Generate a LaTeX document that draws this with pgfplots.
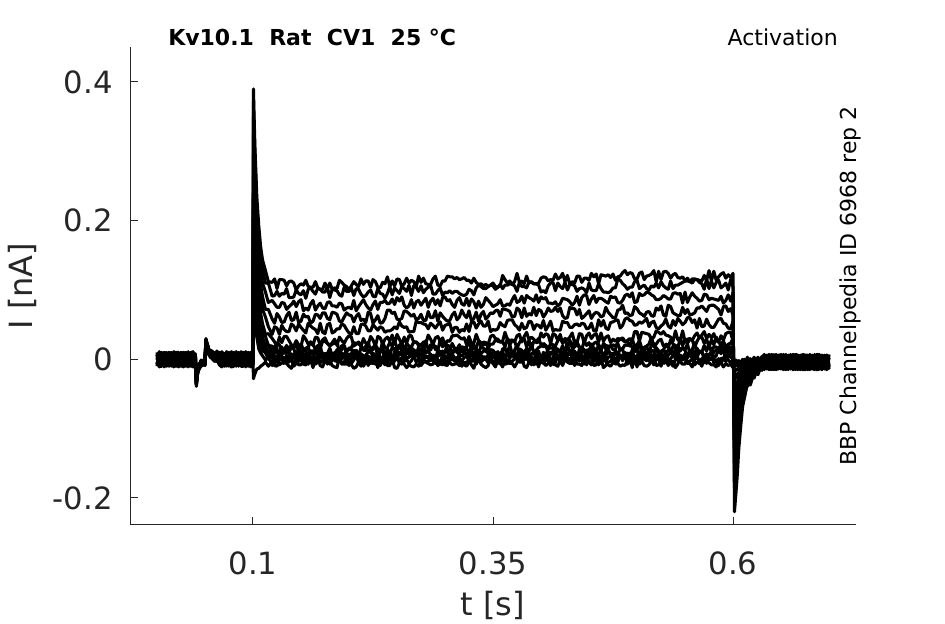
\documentclass[border=0pt]{standalone}
\usepackage{pgfplots}
\pgfplotsset{compat=1.18}
\usepackage{pgfplotstable}
\usepackage{fontspec}
\setmainfont{DejaVu Sans}
\definecolor{axgray}{HTML}{262626}

% time in ms, currents in pA
\pgfplotstableread{
t a b c d e f g h i j k l m
0 4 -6 8 -3 -8 1 6 -7 10 -1 3 -10 7
2.5 11 -6 3 -11 4 -1 -8 10 -4 8 -10 6 -6
5 -7 3 -4 10 1 -8 -3 7 -6 8 -10 4 0
7.5 10 -7 -4 1 -11 8 4 -10 3 -4 8 -8 6
10 8 -1 -10 4 7 -4 10 -8 1 -6 6 -3 -7
12.5 8 -3 4 -8 -1 10 -7 -4 6 -10 1 -6 7
15 -3 10 6 -7 -1 8 -6 3 -10 4 -4 8 1
17.5 6 -10 -3 11 -6 1 -10 7 4 -11 6 -1 -7
20 1 -8 3 8 -10 -3 4 -1 7 -7 10 -6 -4
22.5 3 -8 8 -4 6 -10 -3 4 -7 -1 10 -11 1
25 -10 6 -7 -4 4 7 -8 10 -3 1 -1 3 8
27.5 -3 -1 7 -10 10 -7 -11 6 -1 10 -6 3 -4
30 7 -4 10 -8 -6 3 1 -4 6 -10 7 -7 -1
32.5 -1 4 -11 7 -3 11 -6 1 10 -8 3 -7 4
35 -4 7 -1 3 8 -10 -7 6 -8 3 -3 10 4
37.5 -4 7 -10 3 11 -6 -1 8 -11 4 -7 10 -3
40 3 -3 4 -6 -1 6 8 -10 0 7 -8 1 -6
41 -28 -36 -24 -38 -31 -26 -37 -33 -22 -39 -29 -35 -30
43 -14 -10 -17 -8 -12 -15 -9 -13 -16 -11 -7 -14 -10
46 -7 -2 -9 -4 -8 -1 -6 -10 -3 -5 -8 -2 -6
50 -5 -1 -8 -3 -6 -9 -2 -4 -7 0 -5 -3 -8
51 24 28 20 30 22 26 19 27 23 29 21 25 18
53 15 19 11 17 13 20 12 16 10 18 14 9 17
56 9 4 12 6 10 3 11 7 13 5 8 2 10
60 5 -1 8 2 7 -3 6 0 9 3 -2 4 6
62.5 0 6 11 -1 5 -2 8 2 -2 12 3 9 -3
65 1 -6 7 -3 8 -7 4 -8 6 -1 10 -4 3
67.5 -7 10 -1 6 -10 7 3 -11 8 -6 4 -3 11
70 -6 8 -1 6 -4 3 -10 7 -3 8 -7 1 -8
72.5 -10 1 -6 10 -7 3 11 -8 0 7 -4 4 -8
75 8 -3 4 -10 1 -6 7 -4 10 -7 3 -8 6
77.5 -8 11 6 -1 8 -4 7 -6 -10 3 -11 8 0
80 -1 6 -8 7 -7 10 -3 4 -6 1 -10 8 -4
82.5 -10 7 -1 11 -8 -3 6 -8 1 -7 10 3 -6
85 6 -10 3 -1 10 -4 0 -7 8 -8 4 -3 7
87.5 -8 4 -4 7 0 -8 11 3 -7 10 -6 1 -10
90 -8 4 -6 8 -3 7 -7 1 -4 10 -1 6 -10
92.5 4 -7 3 -8 10 1 -6 11 -3 7 -11 4 -1
95 3 -7 10 -4 6 -8 3 -6 1 -3 7 -10 4
97.5 -4 3 -6 10 -1 6 -11 -7 10 -10 7 -1 -3
100 -4 1 -3 6 -7 4 -8 8 -1 3 -6 0 -3
100.5 390 372 350 325 296 265 235 204 172 140 104 64 -28
101 360 343 322 299 272 243 215 186 157 127 94 58 -25
102 308 293 275 255 231 206 182 157 131 106 78 47 -21
104 234 222 207 190 172 152 133 114 94 75 54 32 -14
106 193 178 156 133 112 88 74 61 49 40 28 15 -13
108 162 149 128 107 87 66 54 44 34 27 19 9 -10
110 143 130 110 90 72 51 41 32 24 19 12 5 -8
113 128 110 97 72 61 36 33 19 19 9 10 -1 -4
116 112 110 82 72 47 37 20 21 8 12 0 4 -10
120 111 91 85 58 36 30 19 6 15 1 6 -9 -3
122.5 116 92 80 52 47 25 12 19 4 10 -6 2 -9
125 102 98 75 66 45 19 23 15 3 11 0 2 -10
127.5 115 91 75 61 36 32 21 5 9 1 7 -8 -1
130 115 95 82 53 49 24 10 18 7 -1 4 -5 1
132.5 114 94 81 54 43 33 13 9 11 -3 2 -6 0
135 106 102 72 63 40 33 20 9 12 5 -6 6 -6
137.5 112 89 76 68 40 27 11 17 10 -4 5 -3 -10
140 113 89 79 56 51 21 16 20 1 8 -2 0 -13
142.5 110 90 84 57 48 19 16 15 2 3 8 -10 -4
145 100 100 76 68 41 27 24 5 10 -2 8 -6 -1
147.5 106 95 83 53 51 21 10 16 6 11 -3 0 -8
150 109 93 86 55 46 18 22 11 0 10 -1 3 -8
152.5 107 99 70 65 42 34 14 13 14 -2 3 -7 -2
155 114 88 74 61 38 29 13 16 14 2 9 -8 -5
157.5 105 101 71 62 52 22 17 18 -1 7 -4 5 -7
160 104 103 80 52 48 25 25 7 4 12 -3 -1 0
162.5 104 98 85 55 45 20 22 10 1 12 0 3 -12
165 112 94 71 65 43 32 14 14 13 -4 2 -7 2
167.5 103 103 77 64 37 31 20 4 13 0 4 -4 3
170 101 101 81 59 52 20 15 19 5 7 -5 4 -9
172.5 101 97 74 67 39 28 26 6 7 9 -2 1 -11
175 110 97 73 67 37 31 26 8 8 -3 5 -4 -2
177.5 102 104 82 59 50 23 23 8 0 6 -7 4 -5
180 110 89 83 57 52 20 19 16 -1 2 8 -7 -2
182.5 101 101 77 68 38 24 22 6 8 -1 8 0 -9
185 103 100 77 67 40 29 23 5 8 10 -2 0 -11
187.5 102 99 75 65 44 20 26 14 2 11 -3 -1 -12
190 114 93 81 55 44 32 10 10 12 -3 5 -3 2
192.5 111 91 80 54 51 27 14 20 5 9 -7 1 -6
195 107 104 71 61 49 23 20 19 3 7 -5 4 -7
197.5 105 98 74 67 43 30 10 7 14 -3 6 -3 -7
200 100 98 75 64 38 34 16 7 14 0 2 -9 0
202.5 106 103 73 63 36 32 17 8 15 6 -6 3 -8
205 112 92 85 54 47 19 24 13 4 12 -1 2 -13
207.5 108 102 70 62 37 22 23 9 13 3 5 6 -11
210 105 101 76 66 37 25 22 4 9 -1 9 -5 -4
212.5 116 94 81 56 50 18 20 17 0 8 0 5 -10
215 108 90 86 58 51 30 13 15 1 5 -3 -10 1
217.5 113 92 79 53 48 23 13 19 6 -2 4 -4 1
220 113 97 74 68 41 21 25 11 11 -4 3 5 -9
222.5 104 100 71 66 41 33 12 11 10 -4 3 -6 3
225 115 91 79 52 50 28 14 18 6 9 -6 -4 -1
227.5 112 90 84 57 46 19 21 18 -1 5 -2 -7 2
230 104 102 72 63 42 33 15 6 15 3 4 3 -12
232.5 103 95 82 52 47 31 11 13 3 12 -1 -9 -1
235 111 94 82 53 45 22 26 17 0 11 -4 -1 -3
237.5 109 88 85 59 39 29 16 5 11 1 7 -8 -3
240 119 95 80 71 41 32 17 15 0 10 -6 -1 -9
242.5 105 105 81 71 41 26 24 7 9 0 8 0 -9
245 113 93 87 66 43 35 19 17 3 -1 3 -5 1
247.5 106 103 79 68 47 22 28 15 3 12 -3 -1 -12
250 116 99 89 58 44 36 16 14 13 1 8 0 -13
252.5 115 95 84 57 54 29 16 21 6 10 -7 1 -6
255 105 105 90 59 48 21 24 11 11 7 2 -7 2
257.5 109 102 78 70 46 32 12 8 15 -2 6 -3 -7
260 117 98 74 69 47 23 23 10 14 12 0 2 -12
262.5 110 107 77 66 39 34 19 9 16 7 -6 3 -8
265 114 92 86 62 40 34 18 18 5 6 -2 6 -10
267.5 112 106 74 65 40 24 25 10 14 4 5 6 -11
270 104 104 83 57 55 25 25 6 10 8 -4 5 -7
272.5 120 98 85 59 53 20 22 18 1 9 0 5 -10
275 111 106 78 65 53 20 21 8 15 9 -1 -9 0
277.5 117 96 83 56 51 25 15 20 7 -1 4 -4 1
280 109 101 88 56 50 22 27 9 12 -3 5 -4 3
282.5 108 104 75 69 44 35 14 12 11 -3 3 -6 3
285 108 107 84 60 52 29 13 21 7 3 7 -8 -2
287.5 116 94 88 60 49 21 23 19 0 6 -2 -7 2
290 120 94 79 70 45 31 14 19 4 -2 6 1 -6
292.5 107 99 86 55 50 33 13 14 4 13 -1 -9 -1
295 106 103 77 67 54 26 28 7 8 11 -7 -6 -4
297.5 113 92 89 62 42 31 18 6 12 2 7 -8 -3
300 113 97 90 58 49 20 24 12 1 11 -1 3 -8
302.5 120 96 84 55 50 27 14 20 5 11 -6 2 -9
305 119 99 86 56 52 26 12 19 8 0 4 -5 1
307.5 119 95 79 64 39 34 23 6 10 2 7 -8 -1
310 116 98 75 68 46 34 16 15 14 -3 2 -7 2
312.5 118 98 85 57 46 35 15 10 12 -2 2 -6 0
315 115 95 89 61 39 32 21 7 16 2 6 -9 -3
317.5 116 93 80 71 43 29 13 18 11 -3 5 -3 -10
320 118 92 78 64 41 31 15 17 15 3 9 -8 -5
322.5 114 94 88 60 51 21 18 16 3 4 8 -10 -4
325 114 101 77 70 40 33 28 9 9 -2 5 -4 -2
327.5 110 99 87 56 54 23 12 17 7 12 -3 0 -8
330 117 93 83 59 54 23 18 21 2 9 -2 0 -13
332.5 111 103 74 68 45 36 16 14 15 -1 3 -7 -2
335 108 107 84 55 51 27 27 8 5 13 -3 -1 0
337.5 109 105 75 65 55 24 19 19 0 8 -4 5 -7
340 106 102 79 69 48 21 25 16 4 12 0 2 -10
342.5 108 102 89 58 48 22 24 11 2 13 0 3 -12
345 105 105 85 62 55 22 17 20 6 8 -5 4 -9
347.5 107 107 81 67 40 33 22 5 14 1 4 -4 3
350 110 106 76 66 43 35 22 10 13 6 -6 6 -6
352.5 105 101 78 70 42 30 28 7 8 10 -2 1 -11
355 104 104 80 71 44 29 26 6 11 -1 8 -6 -1
357.5 106 108 86 62 53 25 25 9 1 7 -7 4 -5
360 121 102 77 73 49 26 25 12 15 12 1 2 -11
362.5 115 107 77 72 47 39 18 16 16 -1 4 -7 -1
365 110 107 80 71 56 29 30 9 9 11 -6 -6 -3
367.5 113 109 78 69 57 27 21 21 1 8 -3 5 -6
370 108 108 86 61 57 28 27 8 11 8 -3 5 -6
372.5 112 106 92 62 50 25 26 13 3 13 1 3 -11
375 124 98 82 74 47 34 16 21 5 -2 7 1 -5
377.5 111 111 84 71 42 36 24 7 15 1 5 -4 4
380 113 105 91 60 52 25 29 11 13 -3 6 -4 4
382.5 109 105 81 74 44 33 30 9 9 10 -1 1 -10
385 120 103 92 62 46 39 18 16 14 1 9 0 -12
387.5 110 112 89 66 55 28 27 11 2 7 -6 4 -4
390 112 111 87 64 54 32 15 23 8 3 8 -8 -1
392.5 109 109 84 75 43 29 26 9 10 0 9 0 -8
395 109 109 93 63 50 24 26 13 12 7 3 -7 3
397.5 110 107 82 72 49 25 30 17 4 12 -2 -1 -11
400 117 97 90 70 45 38 21 19 4 -1 4 -5 2
402.5 119 99 87 61 56 32 18 23 7 10 -6 1 -5
405 118 96 89 66 42 37 20 20 6 6 -1 6 -9
407.5 113 106 81 74 48 35 14 10 16 -2 7 -3 -6
410 115 110 81 69 55 23 23 10 16 9 0 -9 1
412.5 114 111 80 70 41 37 21 11 17 7 -5 3 -7
415 123 99 83 75 43 35 19 17 1 10 -5 -1 -8
417.5 116 110 77 69 42 27 27 12 15 4 6 6 -10
420 118 105 80 74 42 36 30 11 10 -2 6 -4 -1
422.5 124 102 88 63 55 23 24 20 2 9 1 5 -9
425 112 111 87 59 53 30 29 10 6 13 -2 -1 1
427.5 121 100 86 60 53 28 17 22 8 -1 5 -4 2
430 108 108 83 75 46 32 28 8 12 -1 9 -6 0
432.5 112 108 78 73 46 38 16 14 12 -3 4 -6 4
435 110 106 82 73 50 24 27 18 5 12 1 2 -9
437.5 120 98 91 64 51 24 25 21 1 6 -1 -7 3
440 120 102 78 72 48 37 18 17 15 -3 3 -7 3
442.5 111 103 89 59 52 36 15 16 5 13 0 -9 0
445 117 101 93 62 51 23 26 14 2 11 0 3 -7
447.5 117 96 92 66 44 34 20 8 13 2 8 -8 -2
450 114 110 79 70 45 38 24 12 14 6 -5 6 -5
452.5 124 100 87 59 52 30 16 22 6 11 -5 2 -8
455 119 99 92 65 41 35 23 9 17 2 7 -9 -2
457.5 123 99 82 68 41 37 25 8 11 2 8 -8 0
460 109 109 88 66 57 25 19 22 7 8 -4 4 -8
462.5 122 102 88 61 48 38 17 12 13 -2 3 -6 1
465 121 97 86 63 56 26 20 23 3 9 -1 0 -12
467.5 120 97 83 75 45 32 15 20 12 -3 6 -3 -9
470 122 96 81 68 43 34 17 19 16 3 10 -8 -4
472.5 118 98 91 64 53 24 20 18 4 4 9 -10 -3
475 123 103 89 60 54 29 14 21 9 0 5 -5 2
477.5 114 103 90 60 56 26 14 19 8 12 -2 0 -7
480 119 116 82 71 57 30 26 23 6 9 -4 4 -6
482.5 120 114 81 72 45 29 29 13 16 5 6 6 -10
485 125 109 85 78 49 28 31 15 14 -2 4 5 -8
487.5 128 106 92 66 58 25 26 21 3 10 1 5 -9
490 122 101 94 67 60 27 25 20 2 4 9 -7 -1
492.5 125 104 90 63 56 30 19 23 9 0 5 -4 2
495 124 104 96 64 55 26 30 17 7 14 0 2 -12
497.5 116 112 82 76 49 40 18 15 13 -2 4 -6 4
500 116 114 83 73 50 40 21 10 18 5 5 3 -11
502.5 124 102 95 67 54 26 27 22 2 7 -1 -7 3
505 126 105 92 65 52 39 16 14 15 -1 6 -3 3
507.5 115 107 93 62 55 38 17 17 6 14 0 -9 0
510 120 102 97 68 59 37 19 19 4 7 -2 -10 2
512.5 121 100 96 69 47 36 22 9 14 3 8 -8 -2
515 123 106 93 63 53 29 32 21 3 13 -3 -1 -2
517.5 128 104 91 62 55 32 18 23 7 12 -5 2 -8
520 112 110 86 74 46 41 22 11 17 2 3 -9 1
522.5 127 103 86 71 44 39 27 9 12 3 8 -8 0
525 115 112 88 77 48 36 29 9 11 12 -1 0 -10
527.5 126 106 92 64 51 40 19 13 14 -1 3 -6 1
530 127 103 90 62 58 35 20 22 9 11 -5 -4 0
532.5 124 101 87 78 48 34 17 21 13 -2 6 -3 -9
535 117 113 87 76 45 32 28 8 12 1 10 -5 -3
537.5 122 102 95 67 56 26 22 19 5 5 9 -10 -3
540 124 107 96 65 49 41 20 17 15 2 9 0 -12
542.5 118 107 94 63 59 28 16 20 9 13 -2 0 -7
545 117 109 95 63 55 27 31 12 14 -2 6 -4 4
547.5 119 111 81 75 50 41 20 17 17 0 4 -7 -1
550 113 113 97 66 53 26 28 14 13 8 3 -7 3
552.5 117 113 82 72 60 29 23 22 2 9 -3 5 -6
555 112 112 90 64 60 30 29 9 12 9 -3 5 -6
557.5 116 110 96 65 53 27 28 14 4 14 1 3 -11
560 116 115 91 67 57 34 17 24 9 4 8 -8 -1
562.5 115 115 88 74 45 38 26 8 16 2 5 -4 4
565 114 111 84 74 59 31 32 10 10 12 -6 -6 -3
567.5 113 109 85 77 47 35 32 10 10 11 -1 1 -10
570 121 101 94 73 48 40 23 20 5 0 4 -5 2
572.5 114 116 93 69 58 30 29 12 3 8 -6 4 -4
575 128 102 86 77 50 36 18 22 6 -1 7 1 -5
577.5 113 113 88 78 46 31 28 10 11 1 9 0 -8
580 127 103 87 78 46 37 21 18 2 11 -5 -1 -8
582.5 114 111 86 75 52 27 32 18 5 13 -2 -1 -11
585 119 114 85 72 58 25 25 11 17 10 0 -9 1
587.5 123 103 91 64 59 34 20 24 8 11 -6 1 -5
590 125 106 81 76 52 28 27 13 16 13 1 2 -11
592.5 117 110 85 77 51 37 16 11 17 -1 7 -3 -6
595 122 100 93 69 45 39 22 21 7 7 -1 6 -9
597.5 118 115 84 73 44 39 23 12 18 8 -5 3 -7
600 124 104 96 64 55 26 30 17 7 14 0 2 -12
601.5 -220 -186 -160 -132 -113 -89 -73 -56 -43 -28 -19 -9 -5
603 -194 -167 -140 -119 -98 -81 -63 -52 -37 -27 -15 -10 -1
604.5 -166 -140 -121 -99 -85 -67 -56 -43 -33 -21 -15 -7 -4
606 -129 -112 -93 -80 -66 -55 -43 -36 -25 -19 -11 -8 -2
608 -97 -79 -71 -56 -51 -38 -34 -24 -22 -12 -11 -4 -6
610 -68 -63 -49 -46 -34 -33 -21 -23 -12 -14 -5 -8 0
612 -55 -41 -42 -28 -31 -19 -22 -11 -16 -5 -10 0 -7
615 -35 -39 -25 -30 -17 -23 -10 -17 -5 -12 -1 -9 3
618 -37 -23 -29 -15 -23 -10 -17 -5 -13 -1 -10 1 -8
622 -19 -27 -12 -21 -8 -17 -4 -14 -1 -11 2 -9 3
626 -22 -10 -18 -6 -15 -3 -12 -1 -11 1 -9 3 -8
630 -7 -16 -4 -13 -2 -12 -1 -10 2 -9 1 -8 4
632.5 -7 6 -11 0 -15 4 -5 -10 7 -1 -14 3 -8
635 -12 -1 -8 4 -3 -14 3 0 -10 6 -5 2 -11
637.5 -4 4 -15 -1 -14 -10 3 -8 4 -5 2 7 -12
640 3 -14 -3 -10 6 -11 -7 7 -12 2 -8 -1 -15
642.5 7 -7 0 -10 4 -15 -1 3 -14 2 -5 6 -11
645 4 -15 -10 -3 -12 0 -11 2 6 -7 7 -12 -4
647.5 3 -10 -3 -14 2 -8 -11 6 -5 -12 0 -7 4
650 -14 3 0 -5 7 -12 -8 6 -7 0 -12 4 -10
652.5 -10 2 -14 4 -8 6 -12 -5 0 -15 -1 -10 7
655 0 -11 6 -7 -15 2 -3 -12 7 -8 3 -14 -1
657.5 2 -12 4 -8 -1 -14 0 4 -15 -3 -8 -11 6
660 -7 4 -12 0 -10 6 -1 -8 3 -3 -14 7 -5
662.5 -11 -5 2 -15 0 3 -14 -3 -10 7 -7 -14 2
665 -3 -8 7 -11 -1 -15 2 -5 -14 4 -7 3 -8
667.5 -3 -15 6 -5 -11 0 -7 -14 2 -8 4 -12 -1
670 2 -7 -14 3 -5 4 -10 -1 4 -15 -3 -11 6
672.5 7 -10 -1 -15 0 -5 -12 6 -8 4 -14 2 -10
675 6 -5 2 -14 3 -7 -15 4 -4 -11 0 -8 4
677.5 6 -11 -8 -3 -15 4 0 -14 -1 -8 4 -12 2
680 -15 2 -7 7 -8 -3 4 -14 0 -12 6 -10 2
682.5 4 -7 0 -12 -5 6 -11 -8 2 -14 -3 -10 3
685 -10 6 -1 -15 2 -5 6 -11 -8 7 -10 -3 3
687.5 2 -14 -7 7 -10 -3 -14 3 0 -15 2 -5 -11
690 -1 -3 -11 6 -14 3 7 -10 -3 -14 2 -7 0
692.5 -1 -12 4 -8 2 -14 -7 0 -11 -5 6 -15 -3
695 -11 2 -5 6 -10 0 3 -14 -3 4 -8 -1 -12
697.5 -7 -5 3 -14 6 -11 -15 2 -5 6 -10 -1 -8
700 -15 -1 -8 2 -12 7 -7 -11 6 -10 -3 -14 3
}\traces

\begin{document}
\begin{tikzpicture}
\useasboundingbox (0pt,0pt) rectangle (708.75pt,468pt);
\begin{axis}[
  name=ax,
  at={(97.5pt,74.25pt)}, anchor=south west,
  scale only axis, width=544.5pt, height=358.5pt,
  xmin=-0.0281, xmax=0.7281, ymin=-0.239, ymax=0.4505,
  axis x line*=bottom, axis y line*=left,
  axis line style={axgray, line width=0.75pt, -},
  tick align=inside, major tick length=6pt,
  tick style={axgray, line width=0.75pt},
  xtick={0.1,0.35,0.6}, xticklabels={0.1,0.35,0.6},
  ytick={-0.2,0,0.2,0.4}, yticklabels={-0.2,0,0.2,0.4},
  /pgf/number format/assume math mode=true,
  tick label style={font=\fontsize{23}{23}\selectfont, text=axgray},
  xticklabel style={inner sep=0pt, anchor=north, yshift=-19.5pt},
  yticklabel style={inner sep=0pt, anchor=east, xshift=-12.75pt},
  clip=false,
]
\pgfplotsinvokeforeach{a,b,c,d,e,f,g,h,i,j,k,l,m}{
  \addplot[black, line width=2.3pt, line join=round] table[x expr=\thisrow{t}/1000, y expr=\thisrow{#1}/1000] {\traces};
}
\end{axis}
\node[anchor=base, inner sep=0pt, text=axgray, font=\fontsize{24}{24}\selectfont] at ([yshift=-68.25pt]ax.south) {t [s]};
\node[rotate=90, anchor=center, inner sep=0pt, text=axgray, font=\fontsize{24}{24}\selectfont] at ([xshift=-80.6pt]ax.west) {I [nA]};
\node[anchor=base west, inner sep=0pt, font=\fontsize{16.5}{16.5}\selectfont\bfseries] at ([xshift=28.5pt, yshift=0.75pt]ax.north west) {Kv10.1\ \ Rat\ \ CV1\ \ 25~°C};
\node[anchor=base east, inner sep=0pt, font=\fontsize{16.5}{16.5}\selectfont] at ([xshift=-13.5pt, yshift=0.75pt]ax.north east) {Activation};
\node[rotate=90, anchor=base, inner sep=0pt, font=\fontsize{16.5}{16.5}\selectfont] at (ax.east) {BBP Channelpedia ID 6968 rep 2};
\end{tikzpicture}
\end{document}
